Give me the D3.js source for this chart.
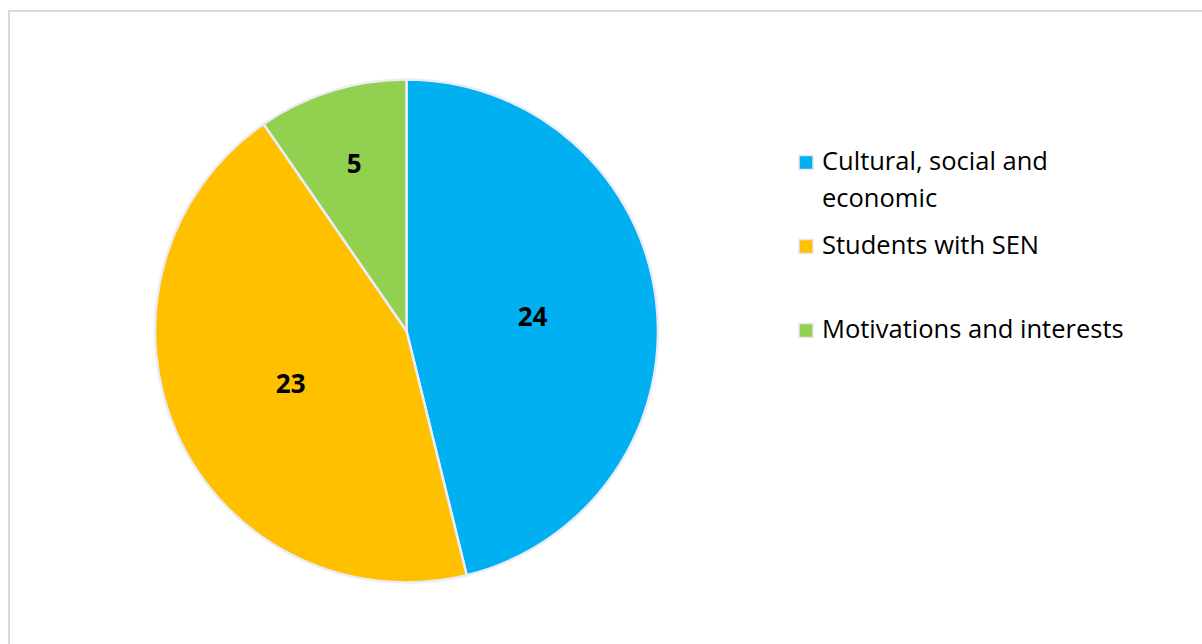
<!DOCTYPE html>
<html>
<head>
<meta charset="utf-8">
<script src="https://cdn.jsdelivr.net/npm/d3@7"></script>
<style>
  html, body { margin: 0; padding: 0; background: #ffffff; }
  svg { display: block; }
</style>
</head>
<body>
<svg id="chart" width="1202" height="644"></svg>
<script>
// Categories and counts, in drawing order (clockwise from 12 o'clock)
const categories = ["Cultural, social and economic", "Students with SEN", "Motivations and interests"];
const values = [24, 23, 5];
const colors = ["#00B0F0", "#FFC000", "#92D050"];
// Legend text, broken into lines as shown
const legendLines = [["Cultural, social and", "economic"], ["Students with SEN"], ["Motivations and interests"]];

const svg = d3.select("#chart");
const W = 1202, H = 644;
const FONT = "'Open Sans', 'Noto Sans', sans-serif";

// Chart area frame
svg.append("rect")
  .attr("x", 9).attr("y", 11)
  .attr("width", W + 20).attr("height", H + 20)
  .attr("fill", "#ffffff")
  .attr("stroke", "#d9d9d9")
  .attr("stroke-width", 2);

const cx = 406.5, cy = 331, R = 251.5;
const data = categories.map((c, i) => ({ name: c, value: values[i], color: colors[i] }));
const total = d3.sum(values);

const pie = d3.pie().value(d => d.value).sort(null);
const arcs = pie(data);
const arc = d3.arc().innerRadius(0).outerRadius(R);

const g = svg.append("g").attr("transform", `translate(${cx},${cy})`);

g.selectAll("path.slice")
  .data(arcs)
  .join("path")
  .attr("class", "slice")
  .attr("d", arc)
  .attr("fill", d => d.data.color)
  .attr("stroke", "#ecebf8")
  .attr("stroke-width", 2.5)
  .attr("stroke-linejoin", "round");

// Value labels: small slices get their label pushed further out
g.selectAll("text.val")
  .data(arcs)
  .join("text")
  .attr("class", "val")
  .attr("transform", d => {
    const share = d.data.value / total;
    const r = share < 0.15 ? R * 0.70 : R * 0.505;
    const a = (d.startAngle + d.endAngle) / 2;
    return `translate(${Math.sin(a) * r},${-Math.cos(a) * r})`;
  })
  .attr("text-anchor", "middle")
  .attr("dominant-baseline", "central")
  .attr("font-family", FONT)
  .attr("font-weight", "bold")
  .attr("font-size", 26)
  .attr("fill", "#000000")
  .text(d => d.data.value);

// Legend
const legendY = d3.scaleLinear().domain([0, 1]).range([170, 254]);
const leg = svg.append("g");
const items = leg.selectAll("g.item")
  .data(data)
  .join("g")
  .attr("class", "item")
  .attr("transform", (d, i) => `translate(0,${legendY(i)})`);

items.append("rect")
  .attr("x", 799).attr("y", -14.5)
  .attr("width", 14).attr("height", 14)
  .attr("fill", d => d.color)
  .attr("stroke", "#e6e6f4")
  .attr("stroke-width", 1.5);

items.append("text")
  .attr("x", 822)
  .attr("y", 0)
  .attr("font-family", FONT)
  .attr("font-size", 25.5)
  .attr("fill", "#000000")
  .selectAll("tspan")
  .data((d, i) => legendLines[i])
  .join("tspan")
  .attr("x", 822)
  .attr("dy", (t, j) => j === 0 ? 0 : 36.5)
  .text(t => t);
</script>
</body>
</html>
